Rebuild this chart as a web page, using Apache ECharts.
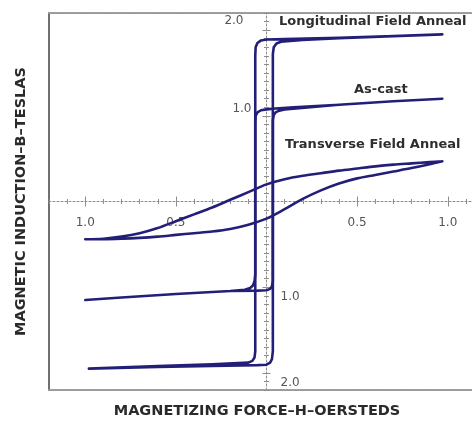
<!DOCTYPE html>
<html><head><meta charset="utf-8">
<script src="https://cdn.jsdelivr.net/npm/echarts@6/dist/echarts.min.js"></script>
<style>html,body{margin:0;padding:0;background:#fff}#c{width:472px;height:424px}</style>
</head><body><div id="c"></div>
<script>
// ---- Data (H in oersteds, B in teslas) ----
// Longitudinal Field Anneal
const longDescH = [0.97, 0.7, 0.4, 0.1, 0.0, -0.03, -0.05, -0.06, -0.062, -0.062, -0.066, -0.078, -0.1, -0.3, -0.6, -0.98];
const longDescB = [1.95, 1.93, 1.91, 1.895, 1.89, 1.88, 1.85, 1.8, 1.7, -1.75, -1.82, -1.86, -1.88, -1.9, -1.92, -1.95];
const longAscH  = [-0.98, -0.6, -0.3, -0.05, 0.0, 0.02, 0.03, 0.035, 0.035, 0.04, 0.055, 0.08, 0.2, 0.4, 0.7, 0.97];
const longAscB  = [-1.95, -1.93, -1.92, -1.91, -1.905, -1.88, -1.84, -1.75, 1.72, 1.8, 1.845, 1.865, 1.885, 1.905, 1.93, 1.95];
// As-cast
const castDescH = [0.97, 0.7, 0.4, 0.15, 0.05, 0.0, -0.03, -0.05, -0.06, -0.062, -0.062, -0.066, -0.075, -0.09, -0.12, -0.2, -0.5, -0.8, -1.0];
const castDescB = [1.2, 1.17, 1.13, 1.1, 1.085, 1.075, 1.065, 1.04, 1.0, 0.92, -0.85, -0.93, -0.98, -1.01, -1.03, -1.045, -1.08, -1.12, -1.15];
const castAscH  = [-1.0, -0.8, -0.5, -0.2, -0.05, 0.0, 0.02, 0.03, 0.035, 0.035, 0.04, 0.05, 0.07, 0.1, 0.4, 0.7, 0.97];
const castAscB  = [-1.15, -1.12, -1.08, -1.045, -1.04, -1.035, -1.02, -0.99, -0.93, 0.95, 1.01, 1.04, 1.06, 1.075, 1.13, 1.17, 1.2];
// Transverse Field Anneal
const transDescH = [0.97, 0.9, 0.8, 0.7, 0.6, 0.5, 0.4, 0.3, 0.2, 0.1, 0.0, -0.1, -0.2, -0.3, -0.4, -0.5, -0.6, -0.7, -0.8, -0.9, -1.0];
const transDescB = [0.47, 0.46, 0.445, 0.43, 0.41, 0.385, 0.36, 0.33, 0.3, 0.26, 0.2, 0.11, 0.02, -0.07, -0.15, -0.23, -0.31, -0.37, -0.41, -0.435, -0.44];
const transAscH  = [-1.0, -0.9, -0.8, -0.7, -0.6, -0.5, -0.4, -0.3, -0.2, -0.1, 0.0, 0.1, 0.2, 0.3, 0.4, 0.5, 0.6, 0.7, 0.8, 0.9, 0.97];
const transAscB  = [-0.44, -0.44, -0.435, -0.425, -0.41, -0.39, -0.37, -0.35, -0.32, -0.27, -0.2, -0.09, 0.03, 0.13, 0.21, 0.27, 0.31, 0.35, 0.39, 0.435, 0.47];

// Tick labels
const xLabelValues = [-1.0, -0.5, 0.5, 1.0];
const yLabelPos = [1.0, 2.0];
const yLabelNeg = [-1.0, -2.0];
const xMajor = [-1.0, -0.5, 0.5, 1.0];
const yMajor = [-2.0, -1.0, 1.0, 2.0];
const curveNames = ['Longitudinal Field Anneal', 'As-cast', 'Transverse Field Anneal'];
const xTitle = 'MAGNETIZING FORCE–H–OERSTEDS';
const yTitle = 'MAGNETIC INDUCTION–B–TESLAS';

// ---- Build ----
const xMinor = [], yMinor = [];
for (let i = -12; i <= 12; i++) if (i !== 0 && i % 5 !== 0) xMinor.push(i / 10);
for (let i = -22; i <= 22; i++) if (i !== 0 && i % 10 !== 0) yMinor.push(i / 10);

function loop(dh, db, ah, ab) {
  return dh.map((h, i) => [h, db[i]]).concat(ah.map((h, i) => [h, ab[i]]));
}

const TFONT = '"DejaVu Sans", Verdana, sans-serif';
const LINE = '#231f78';
const GRAY = '#8c8c8c';
const XR = { min: -1.2, max: 1.2 };
const YR = { min: -2.2, max: 2.2 };
const G = { left: 49, right: -12, top: 13, bottom: 34 };
const W = 472, H = 424;
const gw = W - G.left - G.right, gh = H - G.top - G.bottom;
// shift the central axes from the grid edges onto the zero lines
const xOff = -gh * YR.max / (YR.max - YR.min);
const yOff = -gw * (-XR.min) / (XR.max - XR.min);

function xa(position, o) {
  return Object.assign({
    type: 'value', min: XR.min, max: XR.max, position, offset: xOff,
    splitLine: { show: false },
    axisLine: { show: false, onZero: false },
    axisTick: { show: false },
    axisLabel: { show: false }
  }, o);
}
function ya(position, o) {
  return Object.assign({
    type: 'value', min: YR.min, max: YR.max, position, offset: yOff,
    splitLine: { show: false },
    axisLine: { show: false, onZero: false },
    axisTick: { show: false },
    axisLabel: { show: false }
  }, o);
}
const tickStyle = { color: GRAY, width: 1 };
const labelStyle = { color: '#555', fontSize: 12, fontFamily: TFONT };
const titleStyle = { fontFamily: TFONT, fontWeight: 'bold', fontSize: 14.5, color: '#2a2a2a' };

const chart = echarts.init(document.getElementById('c'), null, { renderer: 'canvas' });
chart.setOption({
  animation: false,
  backgroundColor: '#ffffff',
  grid: Object.assign({ outerBoundsMode: 'none', containLabel: false }, G),
  xAxis: [
    xa('bottom', {
      axisLine: { show: true, onZero: false, lineStyle: { color: GRAY, type: [2, 2], width: 1 } },
      axisTick: { show: true, customValues: xMinor, length: 2.5, lineStyle: tickStyle },
      axisLabel: Object.assign({ show: true, customValues: xLabelValues, margin: 15,
        formatter: v => Math.abs(v).toFixed(1) }, labelStyle)
    }),
    xa('top', { axisTick: { show: true, customValues: xMinor, length: 2.5, lineStyle: tickStyle } }),
    xa('bottom', { axisTick: { show: true, customValues: xMajor, length: 5, lineStyle: tickStyle } }),
    xa('top', { axisTick: { show: true, customValues: xMajor, length: 5, lineStyle: tickStyle } }),
    xa('top', { offset: 0, axisLine: { show: true, onZero: false, lineStyle: { color: '#9a9a9a', type: [1.5, 1.5], width: 2 } } }),
    xa('bottom', {
      offset: 0,
      axisLine: { show: true, onZero: false, lineStyle: { color: '#9a9a9a', type: [1.5, 1.5], width: 2 } },
      name: xTitle, nameLocation: 'middle', nameGap: 14,
      nameTextStyle: Object.assign({ padding: [0, 19, 0, 0] }, titleStyle)
    })
  ],
  yAxis: [
    ya('left', {
      axisLine: { show: true, onZero: false, lineStyle: { color: GRAY, type: [2, 2], width: 1 } },
      axisTick: { show: true, customValues: yMinor, length: 2.5, lineStyle: tickStyle },
      axisLabel: Object.assign({ show: true, customValues: yLabelPos, margin: 15, verticalAlign: 'bottom',
        formatter: v => (v >= 2 ? '{b|' : '{a|') + Math.abs(v).toFixed(1) + '}',
        rich: { a: { padding: [0, 0, 1, 0] }, b: { padding: [0, 8, 3, 0] } } }, labelStyle)
    }),
    ya('right', {
      axisTick: { show: true, customValues: yMinor, length: 2.5, lineStyle: tickStyle },
      axisLabel: Object.assign({ show: true, customValues: yLabelNeg, margin: 14, verticalAlign: 'top',
        padding: [4, 0, 0, 0], formatter: v => Math.abs(v).toFixed(1) }, labelStyle)
    }),
    ya('left', { axisTick: { show: true, customValues: yMajor, length: 4, lineStyle: tickStyle } }),
    ya('right', { axisTick: { show: true, customValues: yMajor, length: 4, lineStyle: tickStyle } }),
    ya('left', {
      offset: 0,
      axisLine: { show: true, onZero: false, lineStyle: { color: '#707070', width: 2 } },
      name: yTitle, nameLocation: 'middle', nameGap: 20,
      nameTextStyle: titleStyle
    })
  ],
  series: [
    { name: curveNames[0], type: 'line', data: loop(longDescH, longDescB, longAscH, longAscB) },
    { name: curveNames[1], type: 'line', data: loop(castDescH, castDescB, castAscH, castAscB) },
    { name: curveNames[2], type: 'line', smooth: 0.3, data: loop(transDescH, transDescB, transAscH, transAscB) }
  ].map(s => Object.assign(s, {
    xAxisIndex: 0, yAxisIndex: 0, showSymbol: false, symbol: 'none',
    lineStyle: { color: LINE, width: 2.6, join: 'round', cap: 'round' }, z: 5
  })),
  graphic: [
    { type: 'text', left: 279, top: 15.5, style: { text: curveNames[0], font: 'bold 13px ' + TFONT, fill: '#2e2e2e' } },
    { type: 'text', left: 354, top: 83.5, style: { text: curveNames[1], font: 'bold 13px ' + TFONT, fill: '#2e2e2e' } },
    { type: 'text', left: 285, top: 138.5, style: { text: curveNames[2], font: 'bold 13px ' + TFONT, fill: '#2e2e2e' } }
  ]
});
</script></body></html>
